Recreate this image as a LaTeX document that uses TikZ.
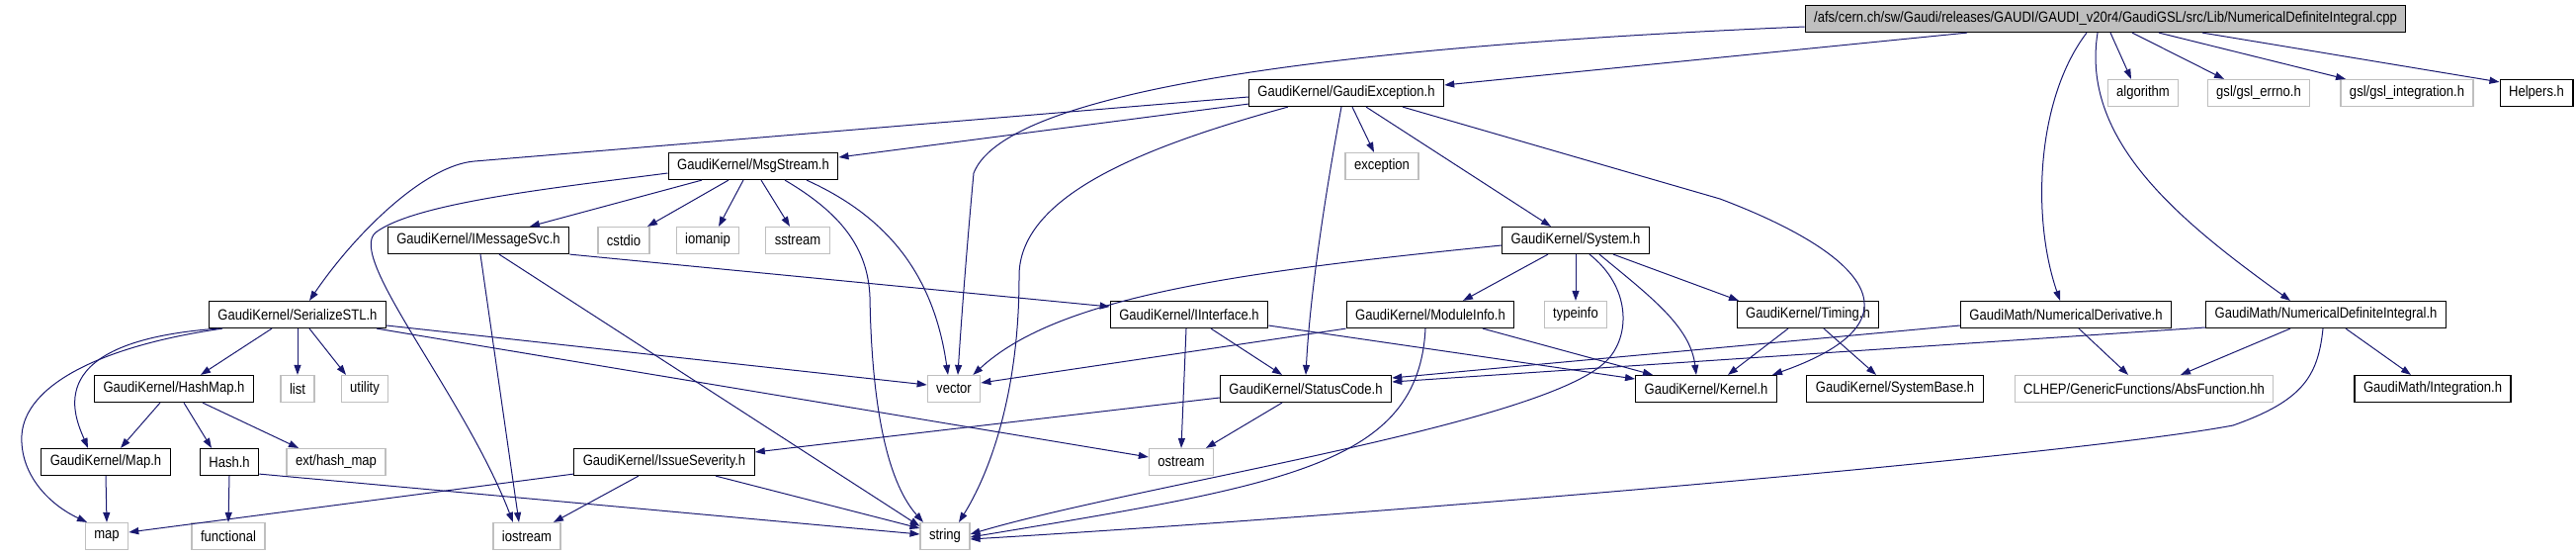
\documentclass[tikz,border=0pt]{standalone}
\usepackage{fontspec}
\usetikzlibrary{arrows.meta}
\newfontfamily\dgfont{Liberation Sans}[FakeStretch=0.87]
\definecolor{EdgeBlue}{HTML}{191970}
\definecolor{SysGray}{HTML}{BFBFBF}

\begin{document}
\begin{tikzpicture}[x=1pt, y=-1pt,
  hdr/.style={rectangle, draw=black, line width=1.2pt, fill=white,
     minimum height=27pt, inner xsep=9pt, inner ysep=0pt,
     font=\dgfont\fontsize{15}{17}\selectfont},
  syshdr/.style={hdr, draw=SysGray},
  srcfile/.style={hdr, fill=SysGray},
  dep/.style={draw=EdgeBlue, line width=1pt,
     -{Triangle[length=10pt, width=7pt]}}]
  \useasboundingbox (0,0) rectangle (2606,560);
  % row 0 and 1
  \node[srcfile] (cpp) at (2130,19) {/afs/cern.ch/sw/Gaudi/releases/GAUDI/GAUDI\_v20r4/GaudiGSL/src/Lib/NumericalDefiniteIntegral.cpp};
  \node[hdr] (exc) at (1362,94) {GaudiKernel/GaudiException.h};
  \node[syshdr] (algo) at (2168,94) {algorithm};
  \node[syshdr] (errno) at (2285,94) {gsl/gsl\_errno.h};
  \node[syshdr] (integ) at (2435,94) {gsl/gsl\_integration.h};
  \node[hdr] (helpers) at (2566,94) {Helpers.h};
  % rows 2 and 3
  \node[hdr] (msg) at (762,168) {GaudiKernel/MsgStream.h};
  \node[syshdr] (excp) at (1398,168) {exception};
  \node[hdr] (imsg) at (484,243) {GaudiKernel/IMessageSvc.h};
  \node[syshdr] (cstdio) at (631,243) {cstdio};
  \node[syshdr] (iomanip) at (716,243) {iomanip};
  \node[syshdr] (sstream) at (807,243) {sstream};
  \node[hdr] (system) at (1594,243) {GaudiKernel/System.h};
  % row 4
  \node[hdr] (sstl) at (301,318) {GaudiKernel/SerializeSTL.h};
  \node[hdr] (iint) at (1203,318) {GaudiKernel/IInterface.h};
  \node[hdr] (modinfo) at (1447,318) {GaudiKernel/ModuleInfo.h};
  \node[syshdr] (typeinfo) at (1594,318) {typeinfo};
  \node[hdr] (timing) at (1829,318) {GaudiKernel/Timing.h};
  \node[hdr] (nder) at (2090,318) {GaudiMath/NumericalDerivative.h};
  \node[hdr] (ndint) at (2353,318) {GaudiMath/NumericalDefiniteIntegral.h};
  % row 5
  \node[hdr] (hashmap) at (176,393) {GaudiKernel/HashMap.h};
  \node[syshdr] (list) at (301,393) {list};
  \node[syshdr] (utility) at (369,393) {utility};
  \node[syshdr] (vector) at (965,393) {vector};
  \node[hdr] (status) at (1321,393) {GaudiKernel/StatusCode.h};
  \node[hdr] (kernel) at (1726,393) {GaudiKernel/Kernel.h};
  \node[hdr] (sysbase) at (1917,393) {GaudiKernel/SystemBase.h};
  \node[syshdr] (absf) at (2169,393) {CLHEP/GenericFunctions/AbsFunction.hh};
  \node[hdr] (integr) at (2461,393) {GaudiMath/Integration.h};
  % rows 6 and 7
  \node[hdr] (maph) at (107,467) {GaudiKernel/Map.h};
  \node[hdr] (hash) at (232,467) {Hash.h};
  \node[syshdr] (exthm) at (340,467) {ext/hash\_map};
  \node[hdr] (issue) at (672,467) {GaudiKernel/IssueSeverity.h};
  \node[syshdr] (ostream) at (1195,467) {ostream};
  \node[syshdr] (map) at (108,542) {map};
  \node[syshdr] (functional) at (231,542) {functional};
  \node[syshdr] (iostream) at (533,542) {iostream};
  \node[syshdr] (string) at (956,542) {string};

  % includes of the .cpp file
  \draw[dep] ([yshift=-8pt]cpp.west) .. controls (1400,45) and (1020,85) .. (985,175)
     .. controls (978,250) and (972,330) .. ([xshift=4pt]vector.north);
  \draw[dep] ([xshift=-140pt]cpp.south) -- ([yshift=8pt]exc.east);
  \draw[dep] ([xshift=5pt]cpp.south) -- ([xshift=-12pt]algo.north);
  \draw[dep] ([xshift=27pt]cpp.south) -- ([xshift=-35pt]errno.north);
  \draw[dep] ([xshift=54pt]cpp.south) -- ([xshift=-62pt]integ.north);
  \draw[dep] ([xshift=98pt]cpp.south) -- ([yshift=-3pt]helpers.north west);
  \draw[dep] ([xshift=-19pt]cpp.south) .. controls (2060,100) and (2055,220) .. ([xshift=-6pt]nder.north);
  \draw[dep] ([xshift=-8pt]cpp.south) .. controls (2105,140) and (2200,220) .. ([xshift=-36pt]ndint.north);
  % GaudiException.h
  \draw[dep] ([yshift=-4pt]exc.west) -- (480,163) .. controls (430,167) and (360,235) .. ([xshift=12pt]sstl.north);
  \draw[dep] ([yshift=3pt]exc.south west) -- ([yshift=9pt]msg.east);
  \draw[dep] ([xshift=-59pt]exc.south) .. controls (1150,150) and (1030,200) .. (1031,280)
     .. controls (1031,400) and (1000,480) .. ([xshift=14pt]string.north);
  \draw[dep] ([xshift=-5pt]exc.south) .. controls (1340,200) and (1325,300) .. (status.north);
  \draw[dep] ([xshift=6pt]exc.south) -- ([xshift=-8pt]excp.north);
  \draw[dep] ([xshift=20pt]exc.south) -- ([xshift=-25pt]system.north);
  \draw[dep] ([xshift=57pt]exc.south) -- (1740,201) .. controls (1870,250) and (1960,320) .. ([xshift=-5pt]kernel.north east);
  % MsgStream.h
  \draw[dep] ([yshift=-7pt]msg.west) .. controls (560,190) and (420,205) .. (380,235)
     .. controls (350,260) and (470,400) .. ([xshift=-14pt]iostream.north);
  \draw[dep] ([xshift=-52pt]msg.south) -- ([xshift=52pt]imsg.north);
  \draw[dep] ([xshift=-25pt]msg.south) -- ([xshift=24pt]cstdio.north);
  \draw[dep] ([xshift=-10pt]msg.south) -- ([xshift=11pt]iomanip.north);
  \draw[dep] ([xshift=8pt]msg.south) -- ([xshift=-8pt]sstream.north);
  \draw[dep] ([xshift=32pt]msg.south) .. controls (850,215) and (878,250) .. (880,300)
     .. controls (882,420) and (900,490) .. ([xshift=-22pt]string.north);
  \draw[dep] ([xshift=54pt]msg.south) .. controls (900,220) and (945,280) .. ([xshift=-6pt]vector.north);
  % IMessageSvc.h
  \draw[dep] (imsg.south east) -- ([yshift=8pt]iint.west);
  \draw[dep] ([xshift=2pt]imsg.south) -- ([xshift=-8pt]iostream.north);
  \draw[dep] ([xshift=21pt]imsg.south) -- ([yshift=-4pt]string.north west);
  % System.h
  \draw[dep] ([yshift=-5pt]system.west) .. controls (1250,275) and (1070,300) .. ([xshift=-8pt]vector.north east);
  \draw[dep] ([xshift=-28pt]system.south) -- ([xshift=33pt]modinfo.north);
  \draw[dep] (system.south) -- (typeinfo.north);
  \draw[dep] ([xshift=14pt]system.south) .. controls (1650,290) and (1650,340) .. (1625,365)
     .. controls (1560,430) and (1150,490) .. ([yshift=2pt]string.east);
  \draw[dep] ([xshift=24pt]system.south) .. controls (1670,300) and (1710,330) .. ([xshift=-10pt]kernel.north);
  \draw[dep] ([xshift=38pt]system.south) -- ([xshift=-70pt]timing.north);
  % SerializeSTL.h
  \draw[dep] ([xshift=-26pt]sstl.south) -- ([xshift=27pt]hashmap.north);
  \draw[dep] (sstl.south) -- (list.north);
  \draw[dep] ([xshift=12pt]sstl.south) -- ([xshift=-19pt]utility.north);
  \draw[dep] ([xshift=-80pt]sstl.south) .. controls (40,345) and (75,420) .. ([xshift=-18pt]maph.north);
  \draw[dep] ([xshift=-76pt]sstl.south) .. controls (100,350) and (25,390) .. (22,440)
     .. controls (20,480) and (50,510) .. ([xshift=-20pt]map.north);
  \draw[dep] ([yshift=-11pt]sstl.east) -- ([yshift=4pt]vector.west);
  \draw[dep] ([xshift=-10pt]sstl.south east) -- ([yshift=5pt]ostream.west);
  % HashMap.h, Map.h, Hash.h
  \draw[dep] ([xshift=-14pt]hashmap.south) -- ([xshift=15pt]maph.north);
  \draw[dep] ([xshift=10pt]hashmap.south) -- ([xshift=-18pt]hash.north);
  \draw[dep] ([xshift=29pt]hashmap.south) -- ([xshift=-38pt]exthm.north);
  \draw[dep] (maph.south) -- (map.north);
  \draw[dep] (hash.south) -- (functional.north);
  \draw[dep] ([yshift=2pt]hash.south east) -- ([yshift=2pt]string.west);
  % IssueSeverity.h
  \draw[dep] ([yshift=2pt]issue.south west) -- ([yshift=4pt]map.east);
  \draw[dep] ([xshift=-26pt]issue.south) -- ([xshift=27pt]iostream.north);
  \draw[dep] ([xshift=52pt]issue.south) -- ([yshift=8pt]string.west);
  % IInterface.h, ModuleInfo.h, StatusCode.h
  \draw[dep] ([xshift=-3pt]iint.south) -- (ostream.north);
  \draw[dep] ([xshift=22pt]iint.south) -- ([xshift=-24pt]status.north);
  \draw[dep] ([yshift=-11pt]iint.east) -- ([yshift=10pt]kernel.west);
  \draw[dep] (modinfo.south west) -- ([yshift=6pt]vector.east);
  \draw[dep] ([xshift=-5pt]modinfo.south) .. controls (1435,470) and (1300,490) .. ([yshift=-1pt]string.east);
  \draw[dep] ([xshift=53pt]modinfo.south) -- ([xshift=-54pt]kernel.north);
  \draw[dep] ([yshift=-9pt]status.west) -- ([yshift=10pt]issue.east);
  \draw[dep] ([xshift=-24pt]status.south) -- ([xshift=25pt]ostream.north);
  % Timing.h
  \draw[dep] ([xshift=-20pt]timing.south) -- ([xshift=22pt]kernel.north);
  \draw[dep] ([xshift=16pt]timing.south) -- ([xshift=-19pt]sysbase.north);
  % GaudiMath headers
  \draw[dep] ([yshift=-11pt]nder.west) -- ([yshift=11pt]status.east);
  \draw[dep] ([xshift=13pt]nder.south) -- ([xshift=-16pt]absf.north);
  \draw[dep] ([yshift=-13pt]ndint.west) -- ([yshift=7pt]status.east);
  \draw[dep] ([xshift=-36pt]ndint.south) -- ([xshift=37pt]absf.north);
  \draw[dep] ([xshift=20pt]ndint.south) -- ([xshift=-22pt]integr.north);
  \draw[dep] ([xshift=-3pt]ndint.south) .. controls (2345,380) and (2330,405) .. (2259,430)
     .. controls (2100,460) and (1400,520) .. ([yshift=-3pt]string.east);
\end{tikzpicture}
\end{document}
